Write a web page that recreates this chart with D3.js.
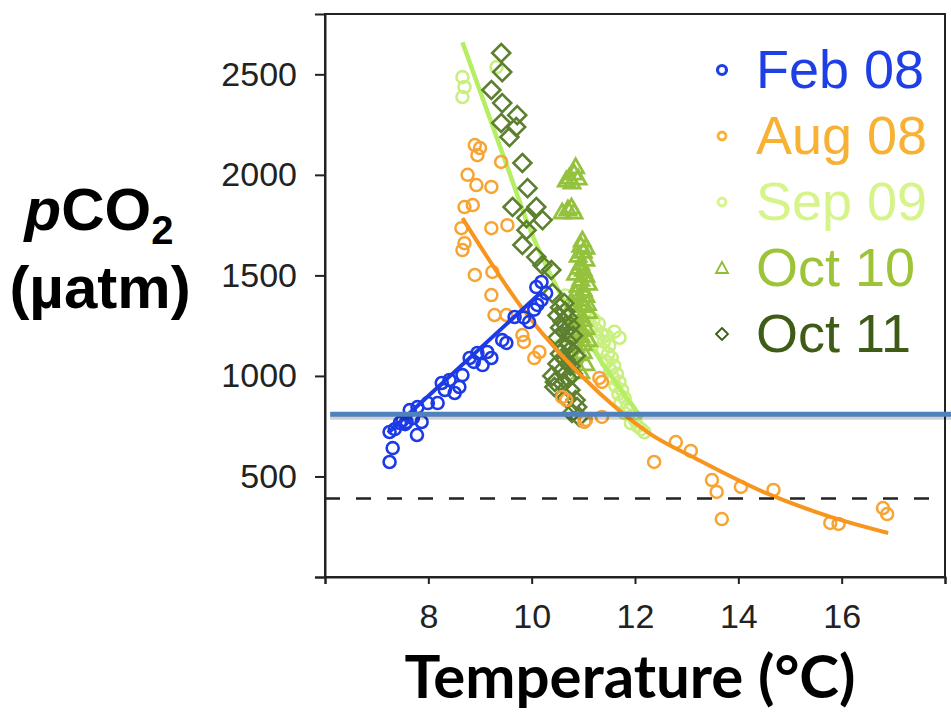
<!DOCTYPE html>
<html>
<head>
<meta charset="utf-8">
<script src="https://cdn.jsdelivr.net/npm/d3@7"></script>
<style>
  body { margin: 0; background: #fff; }
  svg { display: block; }
</style>
</head>
<body>
<div class="container"></div>
<script>
// data: [temperature °C, pCO2 µatm]
const feb08 = [[7.25,572],[7.31,641],[7.25,721],[7.35,735],[7.45,766],[7.50,780],[7.55,760],[7.58,771],
  [7.64,830],[7.70,790],[7.78,706],[7.87,771],[7.79,845],[7.99,865],[8.18,865],[8.26,965],[8.32,930],
  [8.41,980],[8.51,915],[8.60,945],[8.66,1004],[8.80,1089],[8.88,1070],[8.95,1114],[9.05,1054],
  [9.14,1119],[9.22,1089],[9.43,1178],[9.51,1164],[9.67,1293],[9.85,1290],[9.95,1268],[10.05,1330],
  [10.11,1353],[10.19,1377],[10.09,1442],[10.19,1467],[10.28,1412]];
const aug08 = [[8.90,2148],[9.00,2133],[8.95,2098],[9.41,2064],[8.76,2000],[8.93,1949],[9.22,1940],
  [8.70,1840],[8.86,1850],[9.22,1735],[9.53,1750],[8.64,1735],[8.70,1660],[8.66,1626],[8.90,1502],
  [9.24,1517],[9.22,1402],[9.28,1303],[9.51,1303],[9.82,1203],[9.85,1169],[10.05,1089],[10.15,1119],
  [10.59,895],[10.67,880],[11.05,781],[11.02,771],[11.31,990],[11.36,970],[11.36,796],[12.37,572],
  [12.79,671],[13.08,627],[13.49,482],[13.58,423],[13.68,288],[14.05,448],[14.68,433],[15.78,269],
  [15.94,264],[16.80,343],[16.88,313]];
const sep09 = [[8.66,2486],[8.70,2437],[8.66,2387],[9.32,2536],
  [10.65,1400],[10.75,1350],[10.55,1150],[10.60,1100],
  [11.10,1300],[11.20,1280],[11.15,1250],[11.25,1230],[11.30,1260],[11.35,1210],[11.28,1190],
  [11.40,1170],[11.45,1200],[11.50,1150],[11.38,1130],[11.48,1110],[11.55,1090],[11.45,1070],
  [11.60,1050],[11.52,1030],[11.65,1010],[11.58,990],[11.70,970],[11.62,950],[11.75,930],
  [11.68,910],[11.80,890],[11.72,870],[11.85,850],[11.90,830],[11.80,815],[11.95,800],[12.00,780],
  [11.92,765],[12.05,750],[12.12,735],[12.18,720],[11.60,1220],[11.70,1190]];
const oct10 = [[10.73,1989],[10.82,2009],[10.90,1984],[10.78,1964],[10.67,1974],[10.85,2040],
  [10.59,1815],[10.77,1840],[10.82,1815],[10.70,1830],
  [10.98,1676],[11.05,1640],[10.95,1650],[11.00,1620],[10.90,1600],[11.05,1580],[10.95,1560],
  [10.92,1540],[11.00,1530],[10.85,1510],[11.05,1500],[10.95,1480],[11.10,1460],[10.90,1450],
  [11.00,1430],[10.85,1410],[11.05,1400],[10.95,1380],[11.08,1360],[10.80,1360],[11.00,1350],
  [10.90,1330],[11.10,1320],[10.85,1300],[11.00,1280],[10.90,1260],[11.05,1240],[10.95,1230],
  [10.80,1220],[10.95,1200],[11.10,1180],[11.00,1160],[10.85,1150],[11.00,1120],[10.90,1110],
  [10.75,1100],[11.05,1060],[10.95,1020]];
const oct11 = [[9.41,2606],[9.43,2511],[9.22,2422],[9.43,2357],[9.72,2297],[9.41,2258],[9.70,2238],
  [9.57,2188],[9.82,2059],[9.92,1934],[9.63,1840],[10.09,1840],[9.90,1785],[10.21,1775],[9.90,1725],
  [9.82,1651],[10.09,1591],[10.21,1551],[10.38,1527],[10.40,1412],[10.63,1362],
  [10.55,1340],[10.65,1320],[10.50,1300],[10.70,1290],[10.60,1270],[10.75,1250],[10.55,1240],
  [10.65,1220],[10.80,1200],[10.50,1190],[10.70,1170],[10.60,1150],[10.75,1130],[10.55,1110],
  [10.85,1100],[10.65,1080],[10.50,1060],[10.75,1050],[10.60,1030],[10.80,1010],[10.40,1000],
  [10.70,990],[10.45,970],[10.60,960],[10.44,945],[10.75,930],[10.67,890],[10.85,880],[10.88,845],
  [10.78,816],[10.92,796]];

// fitted curves
const febFit = [[7.22,716],[10.20,1420]];
const augFit = [[8.66,1785],[9.80,1343],[11.31,915],[12.27,716],[13.23,582],[14.53,418],[15.80,298],[16.90,219]];
const sepFit = [[8.66,2660],[9.53,2039],[9.95,1740],[10.53,1420],[11.30,1090],[12.13,790]];

const atmLevel = 390;     // dashed line
const markLevel = 810;    // blue annotation line

const xTicks = [6, 8, 10, 12, 14, 16, 18];
const yTicks = [0, 500, 1000, 1500, 2000, 2500];
const legendLabels = ["Feb 08", "Aug 08", "Sep 09", "Oct 10", "Oct 11"];
const legendColors = ["#1f3fe6", "#f7b236", "#d6f48a", "#9cc436", "#3e5c16"];

const w = 951;
const h = 714;

const xScale = d3.scaleLinear().domain([6, 18]).range([325, 945]);
const yScale = d3.scaleLinear().domain([0, 2800]).range([577, 14]);

const svg = d3.select(".container")
  .append("svg")
  .attr("width", w)
  .attr("height", h);

const line = d3.line()
  .x((d) => xScale(d[0]))
  .y((d) => yScale(d[1]))
  .curve(d3.curveMonotoneX);

const diamond = "M0,-9L9,0L0,9L-9,0Z";
const triangle = "M0,-8L8,6L-8,6Z";

// Sep 09
svg.append("g").selectAll("circle")
  .data(sep09).enter().append("circle")
  .attr("cx", (d) => xScale(d[0])).attr("cy", (d) => yScale(d[1])).attr("r", 6)
  .attr("fill", "none").attr("stroke", "#c9ef80").attr("stroke-width", 2.6);
svg.append("path").datum(sepFit).attr("d", line)
  .attr("fill", "none").attr("stroke", "#b5ee62").attr("stroke-width", 4.5);

// Oct 10
svg.append("g").selectAll("path")
  .data(oct10).enter().append("path")
  .attr("d", triangle)
  .attr("transform", (d) => "translate(" + xScale(d[0]) + "," + yScale(d[1]) + ")")
  .attr("fill", "none").attr("stroke", "#94c23e").attr("stroke-width", 2.8);

// Oct 11
svg.append("g").selectAll("path")
  .data(oct11).enter().append("path")
  .attr("d", diamond)
  .attr("transform", (d) => "translate(" + xScale(d[0]) + "," + yScale(d[1]) + ")")
  .attr("fill", "none").attr("stroke", "#5d8030").attr("stroke-width", 2.6);

// Aug 08
svg.append("g").selectAll("circle")
  .data(aug08).enter().append("circle")
  .attr("cx", (d) => xScale(d[0])).attr("cy", (d) => yScale(d[1])).attr("r", 6)
  .attr("fill", "none").attr("stroke", "#f7a433").attr("stroke-width", 2.5);
svg.append("path").datum(augFit).attr("d", line)
  .attr("fill", "none").attr("stroke", "#f7951e").attr("stroke-width", 4);

// Feb 08
svg.append("g").selectAll("circle")
  .data(feb08).enter().append("circle")
  .attr("cx", (d) => xScale(d[0])).attr("cy", (d) => yScale(d[1])).attr("r", 6)
  .attr("fill", "none").attr("stroke", "#1c3ae6").attr("stroke-width", 2.6);
svg.append("path").datum(febFit).attr("d", line)
  .attr("fill", "none").attr("stroke", "#1c3ae6").attr("stroke-width", 4);

// reference lines
svg.append("line")
  .attr("x1", xScale(6)).attr("x2", xScale(18))
  .attr("y1", yScale(atmLevel)).attr("y2", yScale(atmLevel))
  .attr("stroke", "#222").attr("stroke-width", 2.5).attr("stroke-dasharray", "15,16");

// frame
svg.append("rect")
  .attr("x", xScale(6)).attr("y", yScale(2800))
  .attr("width", xScale(18) - xScale(6)).attr("height", yScale(0) - yScale(2800))
  .attr("fill", "none").attr("stroke", "#222").attr("stroke-width", 2);

const xAxis = d3.axisBottom(xScale).tickValues(xTicks).tickSize(7).tickPadding(20)
  .tickFormat((d) => (d === 6 || d === 18) ? "" : d);
const yAxis = d3.axisLeft(yScale).tickValues(yTicks).tickSize(10).tickPadding(18)
  .tickFormat((d) => d === 0 ? "" : d);

const gx = svg.append("g")
  .attr("transform", "translate(0," + yScale(0) + ")")
  .attr("id", "x-axis")
  .call(xAxis);
const gy = svg.append("g")
  .attr("transform", "translate(" + xScale(6) + ",0)")
  .attr("id", "y-axis")
  .call(yAxis);

[gx, gy].forEach((g) => {
  g.select(".domain").attr("stroke", "#222").attr("stroke-width", 2);
  g.selectAll(".tick line").attr("stroke", "#222").attr("stroke-width", 2);
  g.selectAll(".tick text")
    .attr("fill", "#222")
    .style("font-family", "'Liberation Sans', Arial, sans-serif")
    .style("font-size", "34px");
});

// annotation line (drawn on top) with a soft shadow
svg.append("line")
  .attr("x1", xScale(6.1)).attr("x2", xScale(18.2))
  .attr("y1", yScale(markLevel) + 3).attr("y2", yScale(markLevel) + 3)
  .attr("stroke", "#000").attr("stroke-opacity", 0.18).attr("stroke-width", 5);
svg.append("line")
  .attr("x1", xScale(6.1)).attr("x2", xScale(18.2))
  .attr("y1", yScale(markLevel)).attr("y2", yScale(markLevel))
  .attr("stroke", "#4f81bd").attr("stroke-width", 5);

// legend
const legend = svg.append("g").attr("transform", "translate(722,70)");
legendLabels.forEach((label, i) => {
  const row = legend.append("g").attr("transform", "translate(0," + (i * 66) + ")");
  if (i < 3) {
    row.append("circle").attr("r", i === 0 ? 4.5 : 4)
      .attr("fill", "none").attr("stroke", legendColors[i]).attr("stroke-width", i === 0 ? 3.2 : 2.8);
  } else if (i === 3) {
    row.append("path").attr("d", "M0,-6L6,5L-6,5Z")
      .attr("fill", "none").attr("stroke", "#8fbd38").attr("stroke-width", 1.8);
  } else {
    row.append("path").attr("d", "M0,-6L6,0L0,6L-6,0Z")
      .attr("fill", "none").attr("stroke", "#3e5c16").attr("stroke-width", 1.8);
  }
  row.append("text")
    .attr("x", 34).attr("y", 18)
    .attr("fill", legendColors[i])
    .style("font-family", "'Liberation Sans', Arial, sans-serif")
    .style("font-size", "54px")
    .text(label);
});

// axis titles
const yTitle = svg.append("text")
  .attr("text-anchor", "middle")
  .style("font-family", "'Liberation Sans', Arial, sans-serif")
  .style("font-weight", "bold")
  .style("font-size", "60px")
  .attr("fill", "#000");
const l1 = yTitle.append("tspan").attr("x", 99).attr("y", 230);
l1.append("tspan").style("font-style", "italic").text("p");
l1.append("tspan").text("CO");
l1.append("tspan").attr("dy", 14).style("font-size", "40px").text("2");
yTitle.append("tspan").attr("x", 100).attr("y", 308).text("(µatm)");

svg.append("text")
  .attr("x", 630).attr("y", 698)
  .attr("text-anchor", "middle")
  .style("font-family", "Lato, 'Open Sans', sans-serif")
  .style("font-weight", "bold")
  .style("font-size", "60px")
  .attr("fill", "#000")
  .text("Temperature (°C)");
</script>
</body>
</html>
